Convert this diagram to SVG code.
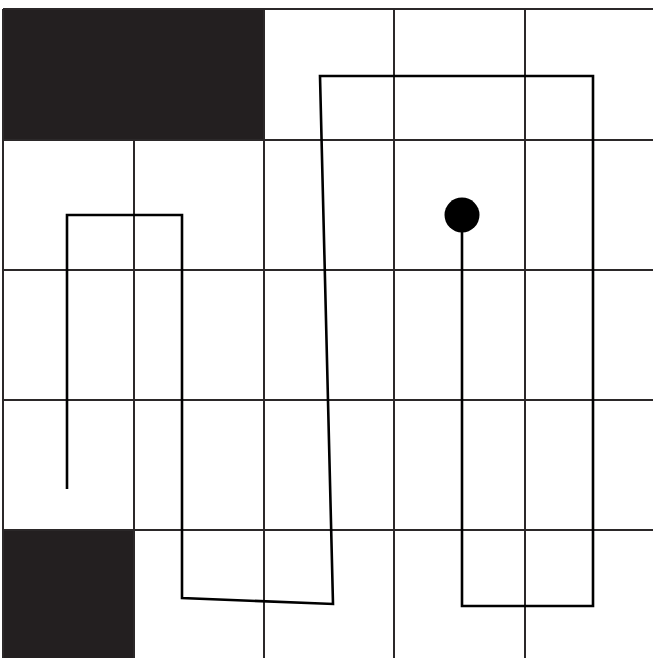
<svg xmlns="http://www.w3.org/2000/svg" width="653" height="658" viewBox="0 0 653 658">
<style>
.grid{stroke:#2b2829;stroke-width:2;fill:none}
.blk{fill:#231f20}
.path{stroke:#000;stroke-width:2.6;fill:none;stroke-linejoin:miter}
</style>
<rect width="653" height="658" fill="#fff"/>
<g id="cells">
<rect class="blk" x="3" y="9" width="262" height="131"/>
<rect class="blk" x="3" y="530" width="131" height="128"/>
</g>
<g id="grid">
<line class="grid" x1="3" y1="9" x2="653" y2="9"/>
<line class="grid" x1="3" y1="140" x2="653" y2="140"/>
<line class="grid" x1="3" y1="270" x2="653" y2="270"/>
<line class="grid" x1="3" y1="400" x2="653" y2="400"/>
<line class="grid" x1="3" y1="530" x2="653" y2="530"/>
<line class="grid" x1="3" y1="9" x2="3" y2="658"/>
<line class="grid" x1="134" y1="140" x2="134" y2="658"/>
<line class="grid" x1="264" y1="9" x2="264" y2="658"/>
<line class="grid" x1="394" y1="9" x2="394" y2="658"/>
<line class="grid" x1="525" y1="9" x2="525" y2="658"/>
</g>
<g id="connectors">
<polyline class="path" points="67,489 67,215 182,215 182,598 333,604 320,76 593,76 593,606 462,606 462,215"/>
<circle cx="462" cy="215" r="17.5" fill="#000"/>
</g>
</svg>
